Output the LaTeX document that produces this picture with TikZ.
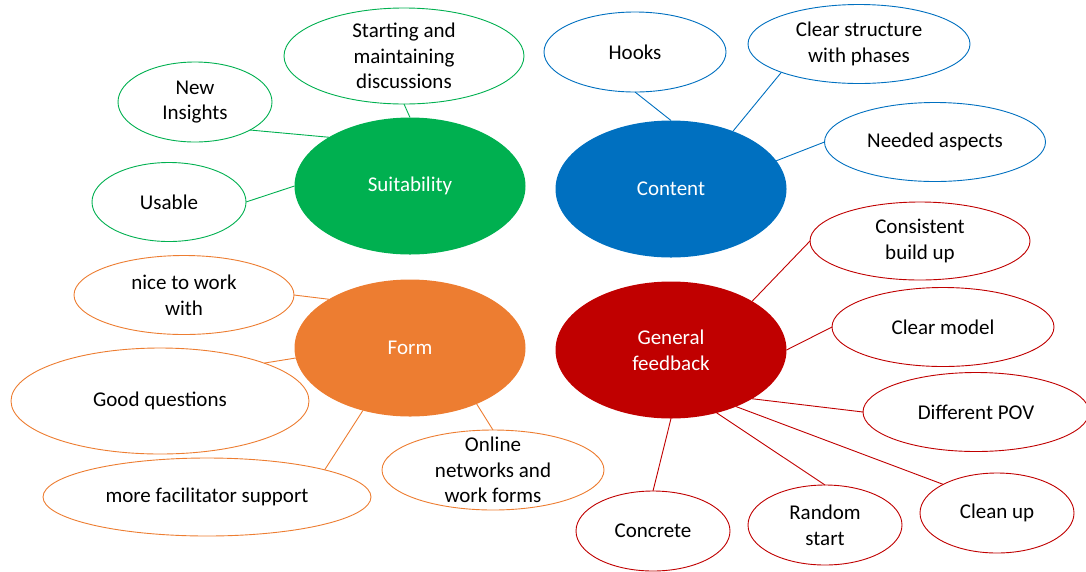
\documentclass[tikz,border=0pt]{standalone}
\usepackage{fontspec}
\setmainfont{Carlito}
\usetikzlibrary{shapes.geometric}
\definecolor{cgreen}{HTML}{00B050}
\definecolor{cblue}{HTML}{0070C0}
\definecolor{corange}{HTML}{ED7D31}
\definecolor{cred}{HTML}{C00000}
\begin{document}
\begin{tikzpicture}[x=1pt,y=-1pt,
  txt/.style={font=\fontsize{21}{25.6}\selectfont},
  hub/.style={ellipse, fill=#1, draw=none, text=white, inner sep=-8pt, outer sep=0pt,
    minimum width=231pt, minimum height=137pt, align=center, txt},
  sat/.style={ellipse, draw=#1, line width=0.9pt, fill=white, text=black, inner sep=-10pt,
    outer sep=0pt, align=center, txt},
  link/.style={draw=#1, line width=0.9pt}]
\useasboundingbox (0,0) rectangle (1086,571);
% hubs
\node[hub=cgreen] (suit) at (410,186) {Suitability};
\node[hub=cblue] (content) at (671,189) {Content};
\node[hub=corange] (form) at (410,348) {Form};
\node[hub=cred] (gf) at (671,350) {General\\feedback};
% green satellites
\node[sat=cgreen, minimum width=240pt, minimum height=96pt] (sd) at (404,56) {Starting and\\maintaining\\discussions};
\node[sat=cgreen, minimum width=154pt, minimum height=80pt] (ni) at (195,102) {New\\Insights};
\node[sat=cgreen, minimum width=154pt, minimum height=79pt] (us) at (169,202) {Usable};
% blue satellites
\node[sat=cblue, minimum width=182pt, minimum height=80pt] (hooks) at (635,52) {Hooks};
\node[sat=cblue, minimum width=222pt, minimum height=79pt] (cs) at (859,44) {Clear structure\\with phases};
\node[sat=cblue, minimum width=221pt, minimum height=79pt] (na) at (935,142) {Needed aspects};
% red satellites
\node[sat=cred, minimum width=220pt, minimum height=78pt] (cb) at (920,241) {Consistent\\build up};
\node[sat=cred, minimum width=222pt, minimum height=79pt] (cm) at (943,327) {Clear model};
\node[sat=cred, minimum width=226pt, minimum height=79pt] (pov) at (976,412) {Different POV};
\node[sat=cred, minimum width=154pt, minimum height=80pt] (cu) at (997,513) {Clean up};
\node[sat=cred, minimum width=154pt, minimum height=80pt] (rs) at (825,525) {Random\\start};
\node[sat=cred, minimum width=154pt, minimum height=80pt] (cc) at (653,531) {Concrete};
% orange satellites
\node[sat=corange, minimum width=220pt, minimum height=79pt] (nice) at (184,295) {nice to work\\with};
\node[sat=corange, minimum width=298pt, minimum height=106pt] (gq) at (160,401) {Good questions};
\node[sat=corange, minimum width=328pt, minimum height=78pt] (mfs) at (207,497) {more facilitator support};
\node[sat=corange, minimum width=222pt, minimum height=80pt] (onl) at (493,470) {Online\\networks and\\work forms};
% connectors
\draw[link=cgreen] (sd.south) -- (suit.north);
\draw[link=cgreen] (ni.-27) -- (suit.149);
\draw[link=cgreen] (us.east) -- (suit.west);
\draw[link=cblue] (hooks.south) -- (content.north);
\draw[link=cblue] (cs.200) -- (content.43);
\draw[link=cblue] (na.west) -- (content.15);
\draw[link=cred] (cb.west) -- (gf.31.5);
\draw[link=cred] (cm.west) -- (gf.east);
\draw[link=cred] (pov.west) -- (gf.-31);
\draw[link=cred] (cu.152) -- (gf.-41);
\draw[link=cred] (rs.north) -- (gf.-54);
\draw[link=cred] (cc.north) -- (gf.south);
\draw[link=corange] (nice.east) -- (form.149);
\draw[link=corange] (gq.20) -- (form.185);
\draw[link=corange] (mfs.13) -- (form.233);
\draw[link=corange] (onl.north) -- (form.-40);
\end{tikzpicture}
\end{document}
